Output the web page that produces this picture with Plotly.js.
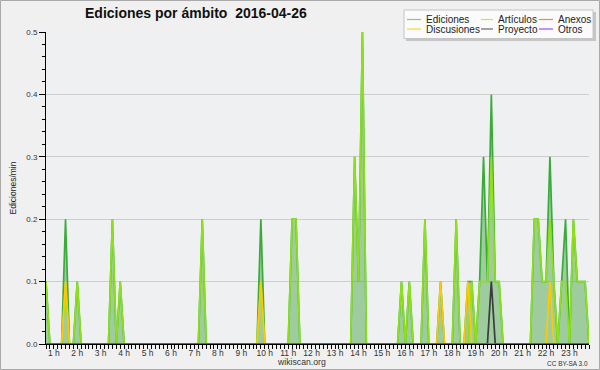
<!DOCTYPE html>
<html>
<head>
<meta charset="utf-8">
<script src="https://cdn.plot.ly/plotly-3.0.1.min.js"></script>
<style>
html,body{margin:0;padding:0;background:#f0f0f0;}
#chart{width:600px;height:370px;}
</style>
</head>
<body>
<div id="chart"></div>
<script>
// ---- data (edits per minute, one value per 10-minute slot, 00:40 .. 23:50) ----
const startMinute = 40;       // first slot 00:40
const slotMinutes = 10;

const ediciones = [
  0.1,0,0,0,0,0.2,0,0,0.1,0,0,0,
  0,0,0,0,0,0.2,0,0.1,0,0,0,0,
  0,0,0,0,0,0,0,0,0,0,0,0,
  0,0,0,0,0.2,0,0,0,0,0,0,0,
  0,0,0,0,0,0,0,0.2,0,0,0,0,
  0,0,0,0.2,0.2,0,0,0,0,0,0,0,
  0,0,0,0,0,0,0,0.3,0.1,0.5,0,0,
  0,0,0,0,0,0,0,0.1,0,0.1,0,0,
  0,0.2,0,0,0,0.1,0,0,0,0.2,0,0,
  0.1,0.1,0,0.1,0.3,0.1,0.4,0.1,0.1,0,0,0,
  0,0,0,0,0,0.2,0.2,0.1,0.1,0.3,0.1,0,
  0.1,0.2,0,0.2,0.1,0.1,0.1,0
];
const articulos = [
  0.1,0,0,0,0,0.1,0,0,0.1,0,0,0,
  0,0,0,0,0,0.2,0,0.1,0,0,0,0,
  0,0,0,0,0,0,0,0,0,0,0,0,
  0,0,0,0,0.2,0,0,0,0,0,0,0,
  0,0,0,0,0,0,0,0.1,0,0,0,0,
  0,0,0,0.2,0.2,0,0,0,0,0,0,0,
  0,0,0,0,0,0,0,0.3,0.1,0.5,0,0,
  0,0,0,0,0,0,0,0.1,0,0.1,0,0,
  0,0.2,0,0,0,0,0,0,0,0.2,0,0,
  0,0.1,0,0.1,0.1,0.1,0.3,0.1,0.1,0,0,0,
  0,0,0,0,0,0.2,0.2,0.1,0.1,0.2,0.1,0,
  0.1,0.1,0,0.2,0.1,0.1,0.1,0
];
const anexos = [
  0,0,0,0,0,0,0,0,0,0,0,0,
  0,0,0,0,0,0,0,0,0,0,0,0,
  0,0,0,0,0,0,0,0,0,0,0,0,
  0,0,0,0,0,0,0,0,0,0,0,0,
  0,0,0,0,0,0,0,0,0,0,0,0,
  0,0,0,0,0,0,0,0,0,0,0,0,
  0,0,0,0,0,0,0,0,0,0,0,0,
  0,0,0,0,0,0,0,0,0,0,0,0,
  0,0,0,0,0,0,0,0,0,0,0,0,
  0,0,0,0,0,0,0,0,0,0,0,0,
  0,0,0,0,0,0,0,0,0,0,0,0,
  0,0,0,0,0,0,0,0
];
const discusiones = [
  0,0,0,0,0,0.1,0,0,0,0,0,0,
  0,0,0,0,0,0,0,0,0,0,0,0,
  0,0,0,0,0,0,0,0,0,0,0,0,
  0,0,0,0,0,0,0,0,0,0,0,0,
  0,0,0,0,0,0,0,0.1,0,0,0,0,
  0,0,0,0,0,0,0,0,0,0,0,0,
  0,0,0,0,0,0,0,0,0,0,0,0,
  0,0,0,0,0,0,0,0,0,0,0,0,
  0,0,0,0,0,0.1,0,0,0,0,0,0,
  0.1,0,0,0,0,0,0,0,0,0,0,0,
  0,0,0,0,0,0,0,0,0,0.1,0,0,
  0,0,0,0,0,0,0,0
];
const proyecto = [
  0,0,0,0,0,0,0,0,0,0,0,0,
  0,0,0,0,0,0,0,0,0,0,0,0,
  0,0,0,0,0,0,0,0,0,0,0,0,
  0,0,0,0,0,0,0,0,0,0,0,0,
  0,0,0,0,0,0,0,0,0,0,0,0,
  0,0,0,0,0,0,0,0,0,0,0,0,
  0,0,0,0,0,0,0,0,0,0,0,0,
  0,0,0,0,0,0,0,0,0,0,0,0,
  0,0,0,0,0,0,0,0,0,0,0,0,
  0,0,0,0,0,0,0.1,0,0,0,0,0,
  0,0,0,0,0,0,0,0,0,0,0,0,
  0,0,0,0,0,0,0,0
];
const otros = [
  0,0,0,0,0,0,0,0,0,0,0,0,
  0,0,0,0,0,0,0,0,0,0,0,0,
  0,0,0,0,0,0,0,0,0,0,0,0,
  0,0,0,0,0,0,0,0,0,0,0,0,
  0,0,0,0,0,0,0,0,0,0,0,0,
  0,0,0,0,0,0,0,0,0,0,0,0,
  0,0,0,0,0,0,0,0,0,0,0,0,
  0,0,0,0,0,0,0,0,0,0,0,0,
  0,0,0,0,0,0,0,0,0,0,0,0,
  0,0,0,0,0,0,0,0,0,0,0,0,
  0,0,0,0,0,0,0,0,0,0,0,0,
  0,0,0,0,0,0,0,0
];

const seriesNames = ['Ediciones','Artículos','Anexos','Discusiones','Proyecto','Otros'];
const hourTicks = [1,2,3,4,5,6,7,8,9,10,11,12,13,14,15,16,17,18,19,20,21,22,23];
const hourLabels = ['1 h','2 h','3 h','4 h','5 h','6 h','7 h','8 h','9 h','10 h','11 h','12 h',
                    '13 h','14 h','15 h','16 h','17 h','18 h','19 h','20 h','21 h','22 h','23 h'];
const yTicks = [0,0.1,0.2,0.3,0.4,0.5];
const yLabels = ['0.0','0.1','0.2','0.3','0.4','0.5'];

// ---- styles ----
const lineColors = {
  'Ediciones':'#3aab3a','Artículos':'#8fe018','Anexos':'#ff7f3f',
  'Discusiones':'#ffc800','Proyecto':'#3c3c3c','Otros':'#9933ff'
};
const legendColors = {
  'Ediciones':'#7ccf7c','Artículos':'#c2ec3a','Anexos':'#ff8448',
  'Discusiones':'#ffd23a','Proyecto':'#6a6a6a','Otros':'#a04cff'
};

// time axis in hours (regular 10-minute sampling grid)
const times = ediciones.map((_, i) => (startMinute + i * slotMinutes) / 60);
const seriesData = {
  'Ediciones':ediciones,'Artículos':articulos,'Anexos':anexos,
  'Discusiones':discusiones,'Proyecto':proyecto,'Otros':otros
};

const traces = seriesNames.map(n => {
  const t = {
    x: times, y: seriesData[n], type:'scatter', mode:'lines', name:n,
    line:{color: lineColors[n], width: 1.7}, hoverinfo:'x+y+name'
  };
  if (n === 'Ediciones') {
    t.fill = 'tozeroy';
    t.fillcolor = 'rgba(60,160,60,0.45)';
  }
  return t;
});

// pixel helpers for page furniture
const W = 600, H = 370, L = 46, R = 11, T = 32, B = 26;
const pw = W - L - R, ph = H - T - B;
const px = p => (p - L) / pw;
const py = p => (H - B - p) / ph;

const font = 'Liberation Sans, Arial, sans-serif';

// custom legend (3 columns x 2 rows)
const legendCols = [407, 481, 539];
const legendRows = [19.5, 29];
const shapes = [
  // outer image border
  {type:'rect', xref:'paper', yref:'paper', x0:px(0.5), x1:px(599.5), y0:py(0.5), y1:py(369.5),
   line:{color:'#a9a9a9', width:1}, fillcolor:'rgba(0,0,0,0)', layer:'above'},
  // legend shadow + box
  {type:'rect', xref:'paper', yref:'paper', x0:px(406), x1:px(596), y0:py(12), y1:py(41),
   line:{width:0}, fillcolor:'#c6c6c6', layer:'above'},
  {type:'rect', xref:'paper', yref:'paper', x0:px(404), x1:px(593), y0:py(10), y1:py(38.5),
   line:{color:'#c4c4c4', width:1}, fillcolor:'#fbfbfb', layer:'above'}
];
const annotations = [];
seriesNames.forEach((n, k) => {
  const c = k % 3, r = Math.floor(k / 3);
  const x0 = legendCols[c], yy = legendRows[r];
  const len = c === 1 ? 12 : 14;
  shapes.push({type:'line', xref:'paper', yref:'paper', x0:px(x0), x1:px(x0+len), y0:py(yy), y1:py(yy),
               line:{color:legendColors[n], width:1.2}, layer:'above'});
  annotations.push({xref:'paper', yref:'paper', x:px(x0+len+3), y:py(yy), xanchor:'left', yanchor:'middle',
                    text:n, showarrow:false, font:{family:font, size:10, color:'#222'}});
});
annotations.push({xref:'paper', yref:'paper', x:px(301), y:py(362), xanchor:'center', yanchor:'middle',
                  text:'wikiscan.org', showarrow:false, font:{family:font, size:8.7, color:'#333'}});
annotations.push({xref:'paper', yref:'paper', x:px(590), y:py(363), xanchor:'right', yanchor:'middle',
                  text:'CC BY-SA 3.0', showarrow:false, font:{family:font, size:6.5, color:'#333'}});

const layout = {
  width: W, height: H,
  margin:{l:L, r:R, t:T, b:B, pad:0},
  paper_bgcolor:'#f0f0f0', plot_bgcolor:'#eef0f1',
  showlegend:false,
  title:{text:'Ediciones por ámbito\u00a0 2016-04-26', x:85/W, xanchor:'left', xref:'container',
         y:1-13/H, yanchor:'middle', yref:'container',
         font:{family:font, size:14, color:'#111', weight:'bold'}},
  xaxis:{
    range:[startMinute/60, times[times.length-1]],
    tickmode:'array', tickvals:hourTicks, ticktext:hourLabels,
    ticks:'outside', ticklen:4, tickwidth:1, tickcolor:'#000',
    ticklabelstandoff:-3,
    showline:true, linecolor:'#000', linewidth:1,
    showgrid:false, zeroline:false,
    tickfont:{family:font, size:8.5, color:'#333'},
    minor:{tickmode:'linear', tick0:0, dtick:1/6, ticks:'outside', ticklen:4, tickwidth:1, tickcolor:'#000', showgrid:false},
    fixedrange:true
  },
  yaxis:{
    range:[0,0.5], tickmode:'array', tickvals:yTicks, ticktext:yLabels,
    ticks:'outside', ticklen:6, tickwidth:1, tickcolor:'#000',
    showline:true, linecolor:'#000', linewidth:1,
    showgrid:true, gridcolor:'#cdcdcd', gridwidth:1, zeroline:false,
    tickfont:{family:font, size:8, color:'#333'},
    minor:{tickmode:'linear', tick0:0, dtick:0.02, ticks:'outside', ticklen:3, tickwidth:1, tickcolor:'#000', showgrid:false},
    title:{text:'Ediciones/min', font:{family:font, size:8.5, color:'#222'}, standoff:8},
    fixedrange:true
  },
  shapes: shapes,
  annotations: annotations
};

Plotly.newPlot('chart', traces, layout, {displayModeBar:false, staticPlot:true});
</script>
</body>
</html>
